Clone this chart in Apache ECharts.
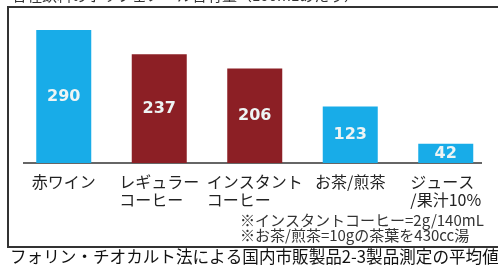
<!DOCTYPE html>
<html>
<head>
<meta charset="utf-8">
<script src="https://cdn.jsdelivr.net/npm/echarts@6/dist/echarts.min.js"></script>
<style>
  html, body { margin: 0; padding: 0; background: #fff; }
  #chart { width: 498px; height: 273px; }
</style>
</head>
<body>
<div id="chart"></div>
<script>
// 飲料の種類
const categories = ['赤ワイン', 'レギュラー\nコーヒー', 'インスタント\nコーヒー', 'お茶/煎茶', 'ジュース\n/果汁10%']
// ポリフェノール量
const values = [290, 237, 206, 123, 42]
const barColors = ['#18ACE8', '#8C1F25', '#8C1F25', '#18ACE8', '#18ACE8']

const titleText = '各種飲料のポリフェノール含有量（100mLあたり）'
const notes = ['※インスタントコーヒー=2g/140mL', '※お茶/煎茶=10gの茶葉を430cc湯']
const footer = 'フォリン・チオカルト法による国内市販製品2-3製品測定の平均値'

const font = '"Noto Sans CJK JP", "Noto Sans", sans-serif'

const myChart = echarts.init(document.getElementById('chart'))
myChart.setOption({
  animation: false,
  backgroundColor: '#fff',
  grid: {
    left: 16,
    top: 25.4,
    width: 477.5,
    height: 137.6
  },
  xAxis: {
    type: 'category',
    data: categories,
    axisLine: { show: false },
    axisTick: { show: false },
    axisLabel: {
      margin: 10,
      interval: 0,
      fontFamily: font,
      fontSize: 16,
      lineHeight: 18,
      color: '#222',
      formatter: function(v) {
        const lines = v.split('\n')
        if (lines.length < 2) return v
        return lines.map(l => '{l|' + l + '}').join('\n')
      },
      rich: {
        l: { align: 'left', fontFamily: font, fontSize: 16, lineHeight: 18, color: '#222' }
      }
    }
  },
  yAxis: {
    type: 'value',
    min: 0,
    max: 300,
    show: false
  },
  series: [{
    type: 'bar',
    barWidth: 55,
    data: values.map((v, i) => ({ value: v, itemStyle: { color: barColors[i] } })),
    label: {
      show: true,
      position: 'inside',
      fontFamily: '"DejaVu Sans", sans-serif',
      fontWeight: 'bold',
      fontSize: 16,
      color: '#EEF4F4'
    }
  }],
  graphic: [
    // 枠
    {
      type: 'rect',
      shape: { x: 8, y: 7, width: 510, height: 240 },
      style: { fill: 'none', stroke: '#333', lineWidth: 2 }
    },
    // 基線
    {
      type: 'line',
      shape: { x1: 23, y1: 163, x2: 482, y2: 163 },
      style: { stroke: '#333', lineWidth: 1.5 }
    },
    {
      type: 'text',
      left: 12,
      top: -12,
      style: { text: titleText, fontFamily: font, fontSize: 15, fill: '#333' }
    },
    {
      type: 'text',
      left: 240,
      top: 213,
      style: { text: notes[0], fontFamily: font, fontSize: 15, fill: '#333' }
    },
    {
      type: 'text',
      left: 240,
      top: 228,
      style: { text: notes[1], fontFamily: font, fontSize: 15, fill: '#333' }
    },
    {
      type: 'text',
      left: 10,
      top: 248,
      style: { text: footer, fontFamily: font, fontSize: 16.6, fill: '#111' }
    }
  ]
})
</script>
</body>
</html>
